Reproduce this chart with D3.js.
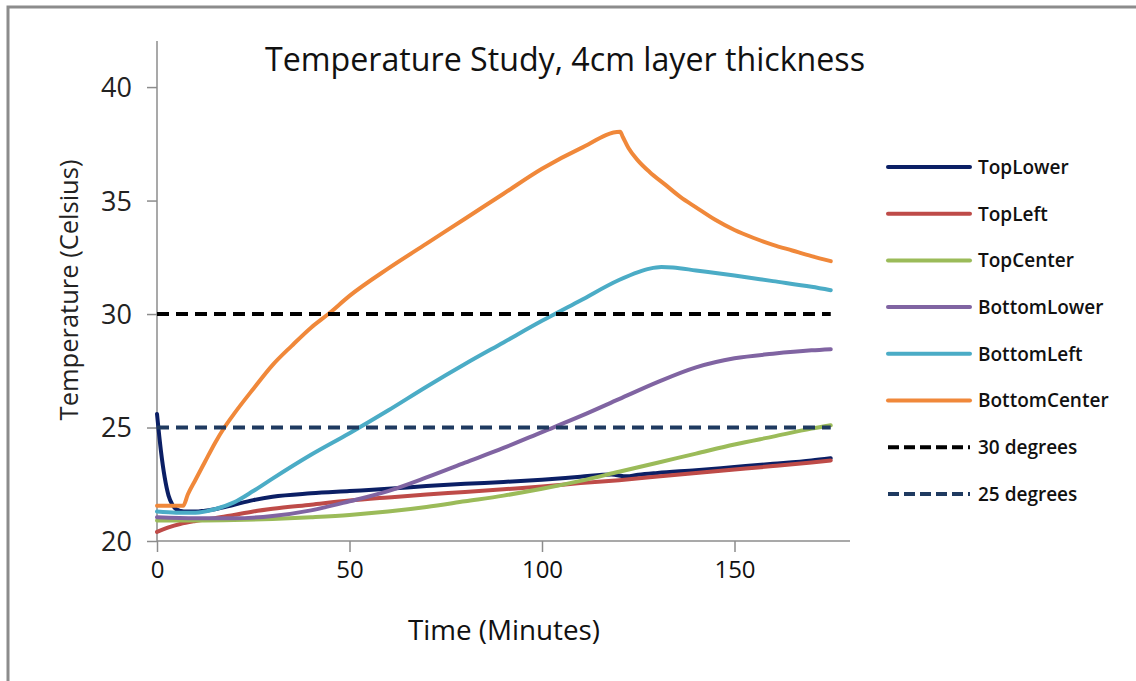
<!DOCTYPE html>
<html><head><meta charset="utf-8">
<script src="https://cdn.jsdelivr.net/npm/d3@7"></script>
<style>html,body{margin:0;padding:0;background:#fff;overflow:hidden;}svg{display:block;overflow:hidden;}</style>
</head><body>
<svg id="chart" width="1136" height="681"></svg>
<script>
const title = "Temperature Study, 4cm layer thickness";
const xLabel = "Time (Minutes)";
const yLabel = "Temperature (Celsius)";
const xTicks = [0, 50, 100, 150];
const yTicks = [20, 25, 30, 35, 40];

const topLowerT = [0,1,2,3,4,5,7,10,15,20,25,30,40,50,60,70,80,90,100,110,118,122,125,130,140,150,160,170,175];
const topLowerV = [25.6,24.0,22.8,22.0,21.6,21.4,21.3,21.3,21.4,21.6,21.8,21.95,22.1,22.2,22.3,22.42,22.52,22.6,22.7,22.83,22.93,22.85,22.92,23.0,23.12,23.26,23.4,23.55,23.65];

const topLeftT = [0,3,6,10,15,20,25,30,40,50,60,70,80,90,100,110,120,130,140,150,160,170,175];
const topLeftV = [20.4,20.6,20.75,20.88,21.0,21.15,21.3,21.42,21.6,21.78,21.92,22.05,22.16,22.28,22.4,22.55,22.68,22.84,23.0,23.15,23.3,23.46,23.55];

const topCenterT = [0,10,20,30,40,50,60,70,80,90,100,110,120,130,140,150,160,170,175];
const topCenterV = [20.9,20.9,20.92,20.97,21.05,21.15,21.3,21.5,21.75,22.0,22.3,22.65,23.05,23.45,23.85,24.25,24.6,24.95,25.1];

const bottomLowerT = [0,10,20,30,40,50,60,70,80,90,100,110,120,130,140,150,160,170,175];
const bottomLowerV = [21.05,21.0,21.0,21.1,21.35,21.75,22.2,22.8,23.45,24.1,24.8,25.5,26.25,27.0,27.65,28.05,28.25,28.4,28.45];

const bottomLeftT = [0,5,10,15,20,25,30,40,50,60,70,80,90,100,110,120,125,128,131,134,140,150,160,170,175];
const bottomLeftV = [21.3,21.25,21.25,21.4,21.7,22.2,22.75,23.8,24.75,25.75,26.8,27.8,28.75,29.7,30.6,31.5,31.85,32.0,32.07,32.05,31.92,31.7,31.45,31.2,31.05];

const bottomCenterT = [0,6.8,8,10,12.5,15,17.5,20,25,30,35,40,44.5,50,60,70,80,90,100,110,120.3,121,122.5,125,128,132,136,140,145,150,155,160,165,170,175];
const bottomCenterV = [21.55,21.55,22.05,22.7,23.5,24.3,25.0,25.6,26.7,27.75,28.6,29.4,30.0,30.8,32.0,33.1,34.2,35.3,36.4,37.3,38.03,37.8,37.3,36.75,36.25,35.7,35.15,34.7,34.15,33.7,33.35,33.05,32.8,32.55,32.33];

const ref30T = [0,175], ref30V = [30,30];
const ref25T = [0,175], ref25V = [25,25];

const seriesNames = ["TopLower","TopLeft","TopCenter","BottomLower","BottomLeft","BottomCenter","30 degrees","25 degrees"];
const seriesColors = ["#0b1f65","#be4b48","#9bbb59","#8064a2","#4bacc6","#f0883a","#000000","#1f3a60"];
const seriesDashed = [false,false,false,false,false,false,true,true];
const seriesData = [
  [topLowerT, topLowerV],[topLeftT, topLeftV],[topCenterT, topCenterV],
  [bottomLowerT, bottomLowerV],[bottomLeftT, bottomLeftV],[bottomCenterT, bottomCenterV],
  [ref30T, ref30V],[ref25T, ref25V]
];

const svg = d3.select("#chart");
const narrow = "'Liberation Sans Narrow','Arial Narrow','Open Sans',sans-serif";

// outer frame (extends past the right and bottom edges)
svg.append("path").attr("d","M8,690V7H1140")
  .attr("fill","none").attr("stroke","#8c8c8c").attr("stroke-width",3);

const x = d3.scaleLinear().domain([0,180]).range([157,850]);
const y = d3.scaleLinear().domain([20,42.03]).range([541,41]);

// axes
const xAxis = svg.append("g").attr("transform","translate(0,541)")
  .call(d3.axisBottom(x).tickValues(xTicks).tickSize(11).tickPadding(9).tickFormat(d3.format("d")));
xAxis.select(".domain").attr("d", `M${x(0)},0H850`);
xAxis.selectAll("text").attr("font-family",narrow).attr("font-size",24).attr("fill","#111");

const yAxis = svg.append("g").attr("transform","translate(157,0)")
  .call(d3.axisLeft(y).tickValues(yTicks).tickSize(10).tickPadding(15).tickFormat(d3.format("d")));
yAxis.select(".domain").attr("d", `M0,41V541`);
yAxis.selectAll("text").attr("font-family","'Open Sans',sans-serif").attr("font-size",27).attr("fill","#222").attr("dy","0.35em");
svg.selectAll(".domain, .tick line").attr("stroke","#8c8c8c").attr("stroke-width",1.5);

// lines
const line = d3.line().x(d=>x(d[0])).y(d=>y(d[1])).curve(d3.curveMonotoneX);
seriesData.forEach((s,i)=>{
  const pts = s[0].map((t,j)=>[t, s[1][j]]);
  const p = svg.append("path").datum(pts).attr("d",line)
    .attr("fill","none").attr("stroke",seriesColors[i]).attr("stroke-width",4)
    .attr("stroke-linejoin","round").attr("stroke-linecap", seriesDashed[i]?"butt":"round");
  if (seriesDashed[i]) p.attr("stroke-dasharray","12,7");
});

// title
svg.append("text").attr("x",565).attr("y",71).attr("text-anchor","middle")
  .attr("font-family",narrow).attr("font-size",33).attr("fill","#111")
  .attr("textLength",600).attr("lengthAdjust","spacingAndGlyphs").text(title);

// axis titles
svg.append("text").attr("x",504).attr("y",640).attr("text-anchor","middle")
  .attr("font-family",narrow).attr("font-size",28).attr("fill","#111")
  .attr("textLength",192).attr("lengthAdjust","spacingAndGlyphs").text(xLabel);
svg.append("text").attr("transform","translate(78,290) rotate(-90)").attr("text-anchor","middle")
  .attr("font-family","'Open Sans',sans-serif").attr("font-size",25.5).attr("fill","#222").text(yLabel);

// legend
const lg = svg.append("g");
seriesNames.forEach((n,i)=>{
  const yy = 167 + i*46.7;
  lg.append("line").attr("x1",888).attr("x2",970).attr("y1",yy).attr("y2",yy)
    .attr("stroke",seriesColors[i]).attr("stroke-width",4)
    .attr("stroke-linecap", seriesDashed[i]?"butt":"round")
    .attr("stroke-dasharray", seriesDashed[i]?"11,5":null);
  lg.append("text").attr("x",978).attr("y",yy).attr("dy","0.36em")
    .attr("font-family","'Open Sans',sans-serif").attr("font-weight",600).attr("font-size",19)
    .attr("fill","#111").text(n);
});
</script>
</body></html>
